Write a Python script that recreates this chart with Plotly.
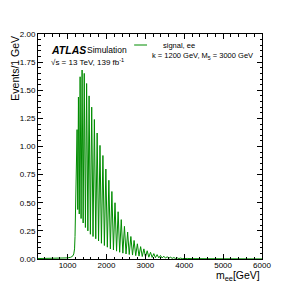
import plotly.graph_objects as go

# ---- data ----
# smooth part below / at threshold
pre_mass = [240, 600, 800, 1000, 1080, 1130, 1160, 1180, 1192, 1200, 1210, 1225]
pre_val = [0.004, 0.005, 0.007, 0.010, 0.015, 0.025, 0.045, 0.09, 0.20, 0.36, 0.45, 0.50]

# resonance peaks (position GeV, height events/GeV)
peak_mass = [1245, 1280, 1323, 1374, 1429, 1490, 1554, 1621, 1690, 1761,
             1834, 1909, 1985, 2062, 2140, 2220, 2300, 2381, 2463, 2545,
             2628, 2711, 2795, 2879, 2963, 3048, 3133, 3218, 3303, 3389,
             3475, 3561, 3647, 3733, 3819, 3906, 3992, 4079]
peak_val = [1.15, 1.44, 1.62, 1.68, 1.65, 1.56, 1.45, 1.35, 1.24, 1.12,
            1.01, 0.92, 0.80, 0.70, 0.60, 0.50, 0.42, 0.35, 0.29, 0.24,
            0.20, 0.165, 0.135, 0.11, 0.09, 0.073, 0.06, 0.048, 0.039, 0.031,
            0.025, 0.020, 0.016, 0.013, 0.010, 0.008, 0.006, 0.005]

# valleys between neighbouring peaks
trough_mass = [1262, 1301, 1348, 1401, 1459, 1522, 1587, 1655, 1725, 1797,
               1871, 1947, 2023, 2101, 2180, 2260, 2340, 2422, 2504, 2586,
               2670, 2753, 2837, 2921, 3005, 3090, 3175, 3260, 3346, 3432,
               3518, 3604, 3690, 3776, 3862, 3949, 4035]
trough_val = [0.44, 0.40, 0.36, 0.32, 0.28, 0.25, 0.22, 0.20, 0.18, 0.16,
              0.14, 0.12, 0.105, 0.09, 0.08, 0.07, 0.06, 0.052, 0.045, 0.040,
              0.035, 0.030, 0.026, 0.022, 0.019, 0.016, 0.014, 0.012, 0.010, 0.009,
              0.008, 0.007, 0.006, 0.005, 0.004, 0.0035, 0.003]

# smooth high-mass tail
tail_mass = [4200, 4600, 5000, 5500, 6000]
tail_val = [0.003, 0.002, 0.0015, 0.001, 0.0008]

x_ticks = [1000, 2000, 3000, 4000, 5000, 6000]
y_ticks = [0.0, 0.25, 0.5, 0.75, 1.0, 1.25, 1.5, 1.75, 2.0]
y_tick_labels = ["0.00", "0.25", "0.50", "0.75", "1.00", "1.25", "1.50", "1.75", "2.00"]

# ---- assemble curve from the read values ----
pts = list(zip(pre_mass, pre_val)) + list(zip(peak_mass, peak_val)) + \
      list(zip(trough_mass, trough_val)) + list(zip(tail_mass, tail_val))
pts.sort(key=lambda p: p[0])
xs = [p[0] for p in pts]
ys = [p[1] for p in pts]

GREEN = "rgb(0,140,0)"
FONT = "Liberation Sans, Arial, Helvetica, sans-serif"

fig = go.Figure()
fig.add_trace(go.Scatter(x=xs, y=ys, mode="lines",
                         line=dict(color=GREEN, width=1), showlegend=False,
                         hoverinfo="skip"))

axis_common = dict(
    showgrid=False, zeroline=False, showline=True, linecolor="black", linewidth=1,
    mirror="allticks", ticks="inside", ticklen=5, tickcolor="black", tickwidth=1,
    tickfont=dict(family=FONT, size=8, color="black"),
)

fig.update_xaxes(range=[240, 6000], tickvals=x_ticks, ticktext=[str(v) for v in x_ticks],
                 ticklabelstandoff=-2,
                 minor=dict(ticks="inside", ticklen=2.5, dtick=200, tickcolor="black", showgrid=False),
                 **axis_common)
fig.update_yaxes(range=[0, 2.0], tickvals=y_ticks, ticktext=y_tick_labels,
                 minor=dict(ticks="inside", ticklen=2.5, dtick=0.05, tickcolor="black", showgrid=False),
                 **axis_common)

W0, H0 = 226.0, 225.0
def px(x):
    return (x - 36) / W0
def py(y):
    return 1 - (y - 34) / H0

ann = [
    dict(text="<b><i>ATLAS</i></b>", x=px(47), y=py(49.5), xanchor="left", yanchor="middle",
         font=dict(family=FONT, size=10.5, color="black")),
    dict(text="Simulation", x=px(83), y=py(49.5), xanchor="left", yanchor="middle",
         font=dict(family=FONT, size=8.5, color="black")),
    dict(text="√s = 13 TeV, 139 fb<sup>-1</sup>", x=px(47), y=py(61.5), xanchor="left", yanchor="middle",
         font=dict(family=FONT, size=8, color="black")),
    dict(text="signal, ee", x=px(160), y=py(45), xanchor="left", yanchor="middle",
         font=dict(family=FONT, size=7.5, color="black")),
    dict(text="k = 1200 GeV, M<sub>5</sub> = 3000 GeV", x=px(149), y=py(55.5), xanchor="left", yanchor="middle",
         font=dict(family=FONT, size=7.5, color="black")),
    dict(text="m<sub>ee</sub>[GeV]", x=1.0, y=py(276), xanchor="right", yanchor="middle",
         font=dict(family=FONT, size=10.5, color="black")),
    dict(text="Events/1 GeV", x=px(12), y=1.0, xanchor="center", yanchor="top", textangle=-90,
         font=dict(family=FONT, size=10.5, color="black")),
]
for a in ann:
    a.update(xref="paper", yref="paper", showarrow=False)
fig.update_layout(annotations=ann)

fig.add_shape(type="line", xref="paper", yref="paper", x0=px(133), x1=px(146),
              y0=py(45), y1=py(45), line=dict(color=GREEN, width=1))

# page body adds an 8px margin, so the figure is 8px smaller and shifted accordingly
fig.update_layout(
    width=283, height=283,
    margin=dict(l=28, r=29, t=26, b=32),
    paper_bgcolor="white", plot_bgcolor="white",
    font=dict(family=FONT, color="black"),
)

fig.write_html("out.html", config={"displayModeBar": False})
